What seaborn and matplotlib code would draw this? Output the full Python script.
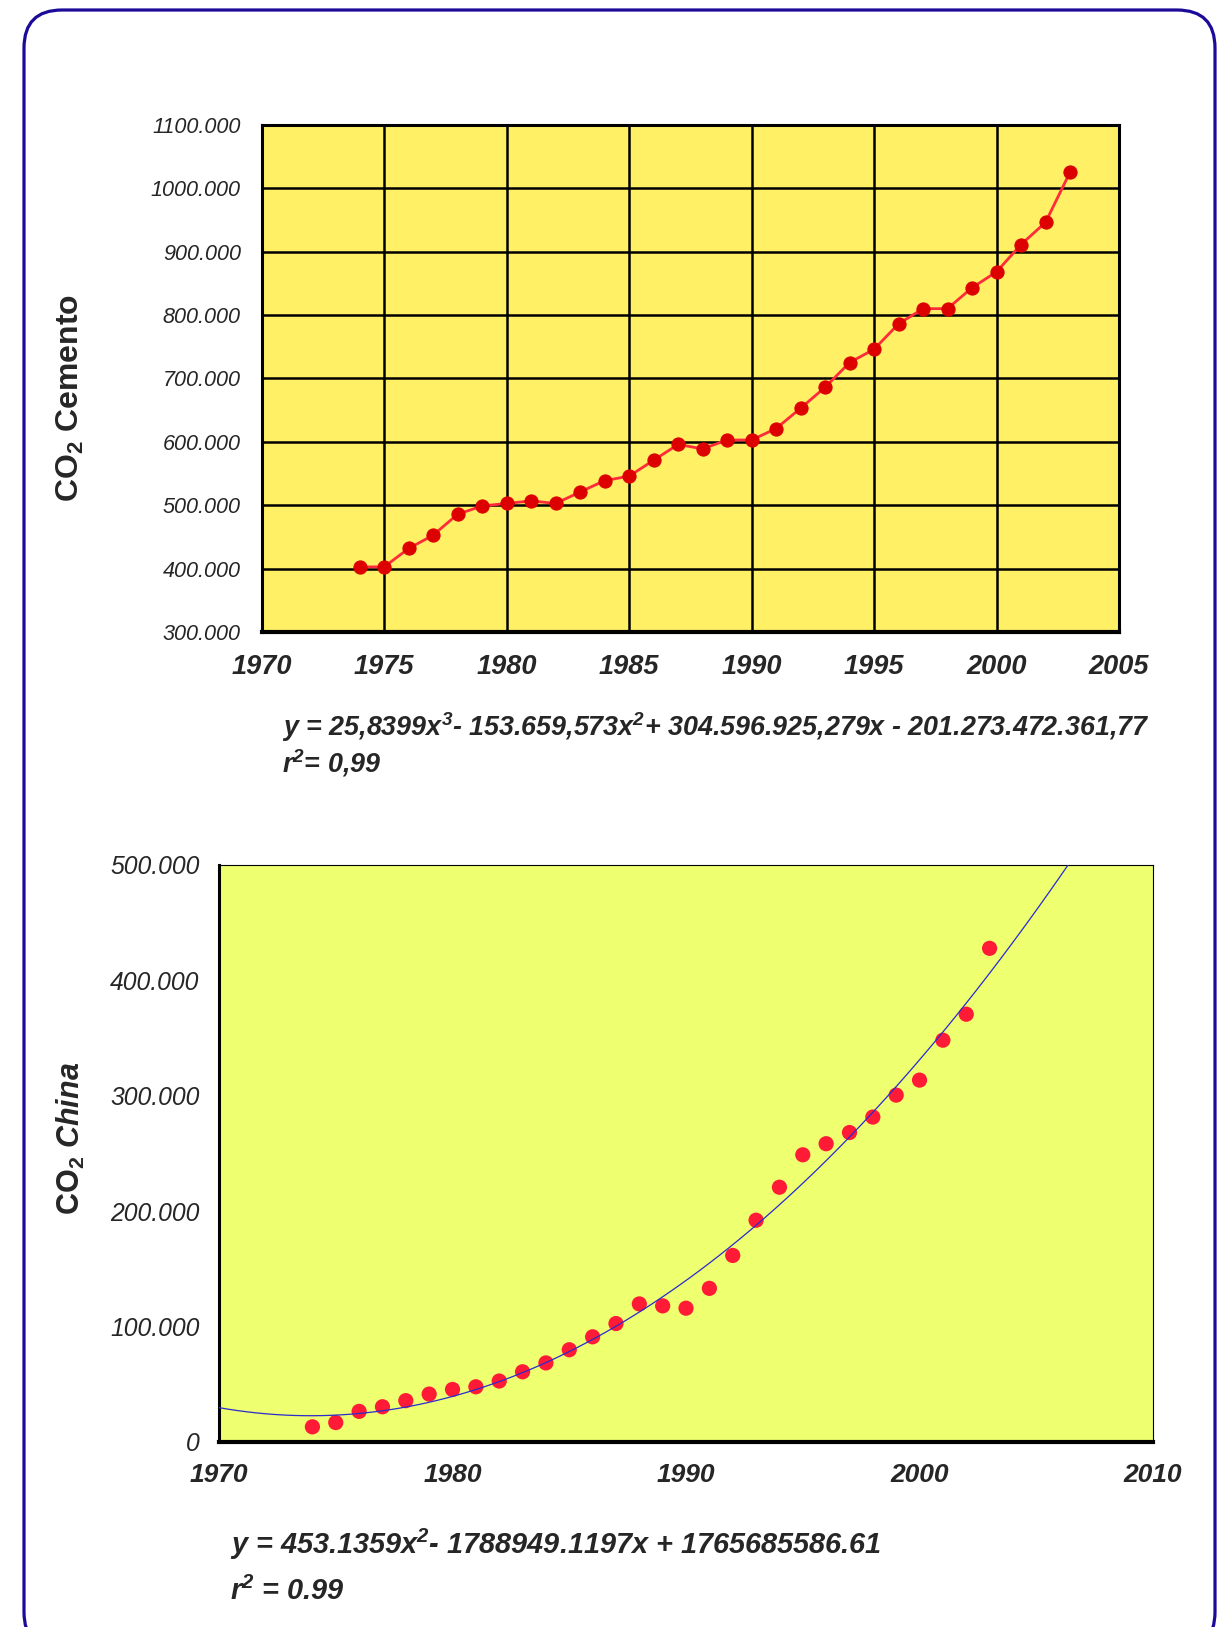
import numpy as np
import pandas as pd
import matplotlib
matplotlib.use('Agg')
import matplotlib.pyplot as plt
import seaborn as sns
from matplotlib.ticker import FuncFormatter, MultipleLocator
from matplotlib.patches import FancyBboxPatch

sns.set_style('white')
plt.rcParams['font.family'] = ['Liberation Sans', 'DejaVu Sans']
plt.rcParams['mathtext.fontset'] = 'custom'
plt.rcParams['mathtext.rm'] = 'Liberation Sans'
plt.rcParams['mathtext.bf'] = 'Liberation Sans:bold'
plt.rcParams['mathtext.bfit'] = 'Liberation Sans:italic:bold'
plt.rcParams['mathtext.it'] = 'Liberation Sans:italic'

# Datos (miles de toneladas)
anios = list(range(1974, 2004))
co2_cemento = [403, 403, 432, 453, 486, 499, 503, 507, 503, 521,
               539, 546, 571, 596, 589, 603, 603, 621, 653, 686,
               725, 746, 786, 810, 810, 843, 868, 911, 946, 1025]
co2_china = [13, 16.7, 26.4, 30.4, 35.7, 41.4, 45.4, 47.7, 52.7, 60.7,
             68.4, 79.8, 91, 102.5, 119.5, 117.8, 115.8, 133, 161.5, 192,
             220.6, 248.7, 258.3, 268, 281.4, 300.4, 313.4, 348, 370.5, 427.6]

eq_cemento = (r'y = 25,8399x$^{\mathbfit{3}}$- 153.659,573x$^{\mathbfit{2}}$'
              r'+ 304.596.925,279x - 201.273.472.361,77')
r2_cemento = r'r$^{\mathbfit{2}}$= 0,99'
eq_china = r'y = 453.1359x$^{\mathbfit{2}}$- 1788949.1197x + 1765685586.61'
r2_china = r'r$^{\mathbfit{2}}$ = 0.99'

df_cem = pd.DataFrame({'anio': anios, 'co2': co2_cemento})
df_chi = pd.DataFrame({'anio': anios, 'co2': co2_china})

W, H = 1229, 1627
fig = plt.figure(figsize=(W / 100, H / 100), dpi=100)

# marco redondeado azul
bg = fig.add_axes([0, 0, 1, 1], zorder=-5)
bg.set_xlim(0, W)
bg.set_ylim(H, 0)
bg.axis('off')
bg.add_patch(FancyBboxPatch((24, 10), 1191, 1640,
                            boxstyle='round,pad=0,rounding_size=38',
                            fc='white', ec='#1c0a99', lw=2.3))

# ── GRAFICO 1: CO2 Cemento ──
ax1 = fig.add_axes([0.2129, 0.6114, 0.6976, 0.312])
ax1.set_facecolor('#fff066')
sns.lineplot(data=df_cem, x='anio', y='co2', ax=ax1, color='#ff2a3a', lw=2,
             marker='o', markersize=9.5, markerfacecolor='#dd0000',
             markeredgecolor='#dd0000', zorder=5)
ax1.set_xlim(1970, 2005)
ax1.set_ylim(300, 1100)
ax1.xaxis.set_major_locator(MultipleLocator(5))
ax1.yaxis.set_major_locator(MultipleLocator(100))
ax1.yaxis.set_major_formatter(FuncFormatter(lambda v, p: f'{v:.3f}'))
ax1.grid(True, color='black', lw=1.8)
ax1.set_axisbelow(True)
for s in ['top', 'right', 'left']:
    ax1.spines[s].set_linewidth(2.2)
    ax1.spines[s].set_color('black')
ax1.spines['bottom'].set_linewidth(3)
ax1.spines['bottom'].set_color('black')
ax1.tick_params(axis='y', direction='out', length=9, width=1.8, pad=6, labelsize=15.6)
ax1.tick_params(axis='x', direction='out', length=6, width=1.8, pad=10, labelsize=19.5)
for t in ax1.get_yticklabels():
    t.set_fontstyle('italic')
for t in ax1.get_xticklabels():
    t.set_fontstyle('italic')
    t.set_fontweight('bold')
ax1.set_xlabel('')
ax1.set_ylabel('')

fig.text(0.0574, 0.7556, r'CO$_{\mathbf{2}}$ Cemento', rotation=90, ha='center',
         va='center', fontsize=23, fontweight='bold')
fig.text(0.2297, 0.5534, eq_cemento, ha='left', va='center', fontsize=19.4,
         fontweight='bold', fontstyle='italic')
fig.text(0.2297, 0.5310, r2_cemento, ha='left', va='center', fontsize=19.4,
         fontweight='bold', fontstyle='italic')

# ── GRAFICO 2: CO2 China ──
ax2 = fig.add_axes([0.1782, 0.1138, 0.760, 0.3547])
ax2.set_facecolor('#eeff70')
ax2.set_xlim(1970, 2010)
sns.scatterplot(data=df_chi, x='anio', y='co2', ax=ax2, s=120,
                color='#ff1a35', edgecolor='none', zorder=4)
sns.regplot(data=df_chi, x='anio', y='co2', ax=ax2, order=2, ci=None,
            truncate=False, scatter=False,
            line_kws=dict(color='#2a2ad0', lw=0.9, zorder=5))
ax2.set_xlim(1970, 2010)
ax2.set_ylim(0, 500)
ax2.xaxis.set_major_locator(MultipleLocator(10))
ax2.yaxis.set_major_locator(MultipleLocator(100))
ax2.yaxis.set_major_formatter(FuncFormatter(lambda v, p: '0' if v == 0 else f'{v:.3f}'))
ax2.spines['left'].set_linewidth(2.2)
ax2.spines['bottom'].set_linewidth(3)
ax2.spines['top'].set_linewidth(0.8)
ax2.spines['right'].set_linewidth(0.8)
for s in ax2.spines.values():
    s.set_color('black')
ax2.tick_params(axis='y', direction='out', length=8, width=1.8, pad=6, labelsize=17.8)
ax2.tick_params(axis='x', direction='out', length=8, width=1.8, pad=7, labelsize=19)
for t in ax2.get_yticklabels():
    t.set_fontstyle('italic')
for t in ax2.get_xticklabels():
    t.set_fontstyle('italic')
    t.set_fontweight('bold')
ax2.set_xlabel('')
ax2.set_ylabel('')

fig.text(0.0574, 0.3001, r'CO$_{\mathbf{2}}$ $\mathbfit{China}$', rotation=90,
         ha='center', va='center', fontsize=22, fontweight='bold')
fig.text(0.1873, 0.0506, eq_china, ha='left', va='center', fontsize=20.8,
         fontweight='bold', fontstyle='italic')
fig.text(0.1873, 0.0221, r2_china, ha='left', va='center', fontsize=20.8,
         fontweight='bold', fontstyle='italic')

plt.savefig('out.png', dpi=100)
plt.close()
